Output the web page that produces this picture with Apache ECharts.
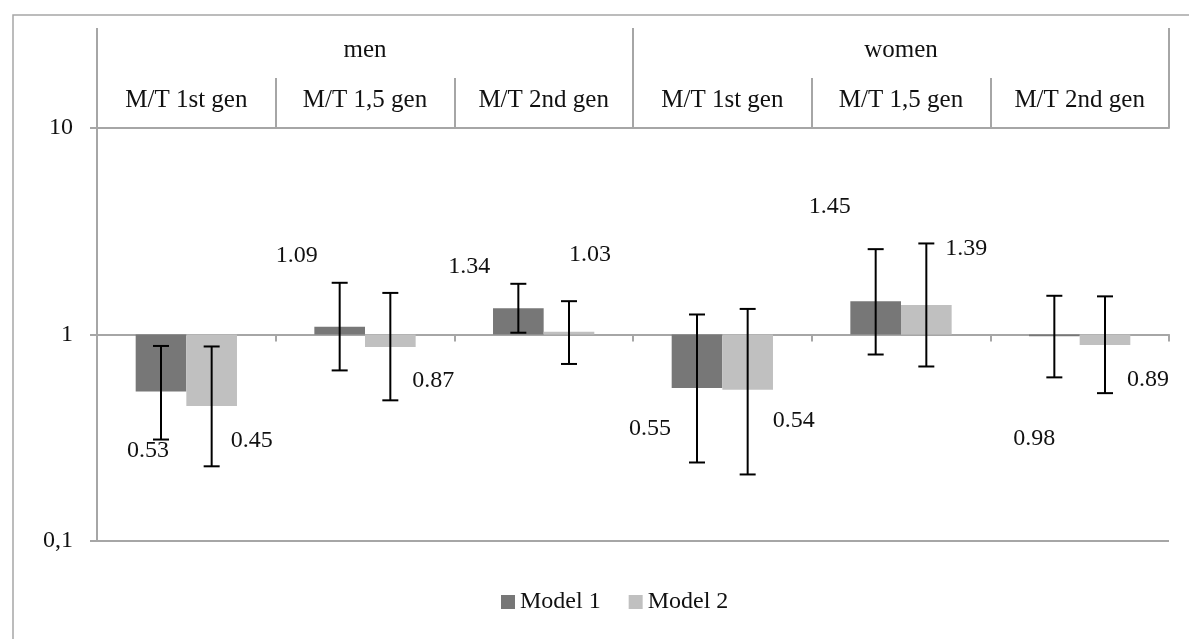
<!DOCTYPE html>
<html>
<head>
<meta charset="utf-8">
<script src="https://cdn.jsdelivr.net/npm/echarts@6/dist/echarts.min.js"></script>
<style>
html,body{margin:0;padding:0;background:#fff;}
#chart{width:1189px;height:639px;}
</style>
</head>
<body>
<div id="chart"></div>
<script>
// ---- data ----
const categories = ['M/T 1st gen','M/T 1,5 gen','M/T 2nd gen','M/T 1st gen','M/T 1,5 gen','M/T 2nd gen'];
const groups = ['men','women'];
const seriesNames = ['Model 1','Model 2'];
const model1 = [0.53, 1.09, 1.34, 0.55, 1.45, 0.98];
const model2 = [0.45, 0.87, 1.03, 0.54, 1.39, 0.89];
const model1Low  = [0.31, 0.67, 1.02, 0.24, 0.80, 0.62];
const model1High = [0.88, 1.78, 1.76, 1.25, 2.59, 1.54];
const model2Low  = [0.23, 0.48, 0.72, 0.21, 0.70, 0.52];
const model2High = [0.875, 1.59, 1.45, 1.33, 2.76, 1.53];
const yTickLabels = {0.1: '0,1', 1: '1', 10: '10'};

// ---- layout / style ----
const FONT = '"Liberation Serif", "Times New Roman", serif';
const COLORS = ['#777777', '#c0c0c0'];
const AXIS = '#a6a6a6';
const BAR_FRAC = 0.2835;            // width of one bar as fraction of category
// label offsets (px) relative to each bar's value end, [dx, dy]
const labelOffsets = [
  [[-13,59],[-43,-71],[-49,-42],[-47,41],[-46,-94],[-20,102]],
  [[40,35],[43,34],[21,-77],[46,31],[40,-56],[43,35]]
];

const chart = echarts.init(document.getElementById('chart'), null, {renderer:'canvas'});

function barSeries(k, values) {
  return {
    name: seriesNames[k],
    type: 'custom',
    xAxisIndex: 0,
    yAxisIndex: 0,
    itemStyle: {color: COLORS[k]},
    data: values.map((v, i) => [i, v]),
    renderItem: function (params, api) {
      const i = api.value(0), v = api.value(1);
      const catW = api.size([1, 1])[0];
      const w = catW * BAR_FRAC;
      const base = api.coord([i, 1]);
      const top = api.coord([i, v]);
      const cx = base[0] + (k === 0 ? -w / 2 : w / 2);
      const off = labelOffsets[k][i];
      return {
        type: 'group',
        children: [
          {
            type: 'rect',
            shape: {x: cx - w / 2, y: Math.min(base[1], top[1]), width: w, height: Math.abs(base[1] - top[1])},
            style: {fill: COLORS[k]}
          },
          {
            type: 'text',
            z2: 20,
            style: {
              text: v.toFixed(2), x: cx + off[0], y: top[1] + off[1],
              align: 'center', verticalAlign: 'middle',
              font: '24px ' + FONT, fill: '#111'
            }
          }
        ]
      };
    }
  };
}

function errSeries(k, lows, highs) {
  return {
    name: seriesNames[k] + ' CI',
    type: 'custom',
    xAxisIndex: 0,
    yAxisIndex: 0,
    z: 5,
    data: lows.map((l, i) => [i, l, highs[i]]),
    renderItem: function (params, api) {
      const i = api.value(0);
      const catW = api.size([1, 1])[0];
      const w = catW * BAR_FRAC;
      const lo = api.coord([i, api.value(1)]);
      const hi = api.coord([i, api.value(2)]);
      const cx = lo[0] + (k === 0 ? -w / 2 : w / 2);
      const cap = 8;
      const st = {stroke: '#000', lineWidth: 2};
      return {
        type: 'group',
        children: [
          {type: 'line', shape: {x1: cx, y1: lo[1], x2: cx, y2: hi[1]}, style: st},
          {type: 'line', shape: {x1: cx - cap, y1: lo[1], x2: cx + cap, y2: lo[1]}, style: st},
          {type: 'line', shape: {x1: cx - cap, y1: hi[1], x2: cx + cap, y2: hi[1]}, style: st}
        ]
      };
    }
  };
}

const gridTop = 128, gridBottom = 98;
const gridH = 639 - gridTop - gridBottom;

const option = {
  backgroundColor: '#fff',
  animation: false,
  textStyle: {fontFamily: FONT},
  graphic: [{
    type: 'rect', silent: true, z: -10,
    shape: {x: 13, y: 15, width: 1300, height: 800},
    style: {fill: 'none', stroke: AXIS, lineWidth: 1.5}
  }],
  grid: {left: 97, right: 20, top: gridTop, bottom: gridBottom, containLabel: false, outerBoundsMode: 'none'},
  legend: {
    data: seriesNames,
    bottom: 20,
    left: 496,
    icon: 'rect',
    itemWidth: 14,
    itemHeight: 14,
    itemGap: 28,
    textStyle: {fontFamily: FONT, fontSize: 24, color: '#111'}
  },
  xAxis: [
    {
      type: 'category', data: categories, position: 'top',
      axisLine: {show: true, lineStyle: {color: AXIS, width: 2}},
      axisTick: {show: true, length: 50, lineStyle: {color: AXIS, width: 2}},
      axisLabel: {show: true, fontFamily: FONT, fontSize: 25, color: '#111', margin: 15},
      splitLine: {show: false}
    },
    {
      type: 'category', data: groups, position: 'top', offset: 50,
      axisLine: {show: false},
      axisTick: {show: true, length: 50, lineStyle: {color: AXIS, width: 2}},
      axisLabel: {show: true, fontFamily: FONT, fontSize: 25, color: '#111', margin: 15},
      splitLine: {show: false}
    },
    {
      type: 'category', data: categories, position: 'bottom', offset: -gridH / 2,
      axisLine: {show: true, lineStyle: {color: AXIS, width: 2}},
      axisTick: {show: true, length: 7, lineStyle: {color: AXIS, width: 2}},
      axisLabel: {show: false},
      splitLine: {show: false}
    }
  ],
  yAxis: {
    type: 'log', logBase: 10, min: 0.1, max: 10,
    axisLine: {show: true, lineStyle: {color: AXIS, width: 2}},
    axisTick: {show: true, length: 7, lineStyle: {color: AXIS, width: 2}},
    axisLabel: {
      fontFamily: FONT, fontSize: 24, color: '#111', margin: 24,
      formatter: function (v) {
        const key = Math.round(Math.log10(v));
        return yTickLabels[Math.pow(10, key)] || yTickLabels[v] || String(v);
      }
    },
    splitLine: {show: true, lineStyle: {color: AXIS, width: 2}},
    minorTick: {show: false}
  },
  series: [
    barSeries(0, model1),
    barSeries(1, model2),
    errSeries(0, model1Low, model1High),
    errSeries(1, model2Low, model2High)
  ]
};
chart.setOption(option);
</script>
</body>
</html>
